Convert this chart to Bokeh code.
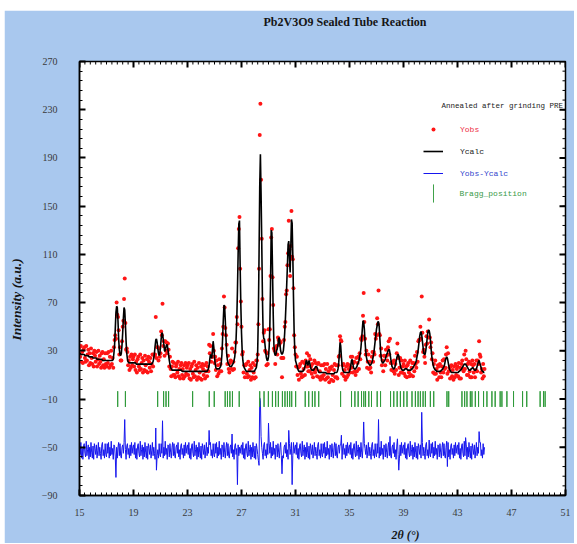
from bokeh.plotting import figure
from bokeh.layouts import column, row
from bokeh.models import (Range1d, FixedTicker, Label, Legend, LegendItem, Title, Spacer)
from bokeh.embed import file_html
from bokeh.resources import INLINE

# ---------------- data ----------------
TWO_THETA_START = 15.0
TWO_THETA_STEP = 0.05

y_calc = [
    28, 28, 27, 27, 27, 27, 27, 27, 26, 26, 26, 26, 26, 26, 25, 25, 25, 25, 25, 25,
    24, 24, 24, 24, 24, 24, 23, 23, 23, 23, 23, 23, 23, 23, 22, 22, 22, 22, 22, 22,
    22, 22, 22, 22, 22, 22, 22, 22, 22, 22, 23, 28, 35, 48, 62, 67, 66, 55, 40, 31,
    27, 26, 28, 35, 45, 57, 66, 64, 52, 38, 28, 23, 21, 20, 20, 20, 20, 20, 20, 20,
    20, 20, 20, 20, 19, 19, 19, 19, 19, 19, 19, 19, 19, 19, 19, 19, 19, 19, 19, 19,
    19, 19, 19, 19, 19, 19, 19, 19, 20, 21, 24, 28, 34, 39, 40, 37, 32, 28, 26, 28,
    33, 40, 45, 44, 40, 35, 30, 30, 33, 35, 35, 31, 27, 22, 19, 16, 15, 14, 14, 14,
    14, 14, 14, 14, 14, 14, 14, 14, 14, 14, 14, 14, 13, 13, 13, 13, 13, 13, 13, 13,
    13, 13, 13, 13, 13, 13, 13, 13, 13, 13, 13, 13, 13, 13, 13, 13, 13, 13, 13, 13,
    13, 13, 13, 13, 13, 13, 13, 13, 13, 13, 14, 15, 18, 23, 27, 25, 24, 31, 38, 33,
    25, 19, 16, 15, 15, 15, 15, 15, 16, 17, 20, 27, 40, 55, 68, 67, 55, 40, 28, 23,
    20, 19, 18, 17, 17, 17, 18, 19, 20, 22, 25, 31, 40, 56, 80, 110, 135, 138, 100, 68,
    45, 30, 22, 18, 16, 15, 14, 13, 13, 13, 13, 13, 13, 13, 13, 13, 13, 13, 13, 13,
    14, 15, 16, 20, 30, 60, 110, 165, 193, 160, 120, 75, 45, 40, 40, 34, 28, 24, 22, 22,
    25, 33, 50, 85, 130, 128, 95, 60, 35, 28, 26, 27, 30, 32, 35, 40, 41, 35, 30, 28,
    27, 28, 30, 36, 45, 56, 70, 85, 100, 118, 121, 108, 95, 115, 139, 136, 110, 75, 45, 30,
    22, 20, 18, 16, 14, 13, 13, 13, 13, 13, 13, 13, 14, 15, 17, 19, 22, 21, 18, 19,
    22, 20, 17, 15, 14, 14, 14, 14, 15, 16, 17, 17, 16, 14, 13, 12, 12, 12, 12, 12,
    12, 12, 12, 12, 12, 12, 11, 11, 11, 11, 11, 11, 11, 11, 11, 11, 11, 11, 12, 12,
    12, 12, 13, 15, 20, 28, 37, 34, 25, 18, 14, 13, 12, 12, 12, 12, 12, 12, 12, 12,
    13, 15, 18, 22, 23, 19, 16, 15, 15, 15, 16, 17, 19, 20, 22, 25, 28, 33, 40, 48,
    55, 54, 48, 38, 30, 25, 22, 21, 20, 19, 18, 18, 19, 20, 22, 25, 28, 33, 38, 43,
    48, 51, 54, 54, 50, 40, 30, 24, 21, 20, 20, 21, 22, 23, 25, 27, 28, 30, 31, 31,
    28, 24, 20, 17, 16, 15, 15, 16, 18, 21, 24, 26, 27, 26, 22, 19, 16, 15, 14, 14,
    14, 14, 15, 15, 15, 15, 14, 14, 14, 14, 14, 14, 15, 15, 16, 17, 18, 19, 20, 22,
    25, 28, 32, 37, 42, 45, 46, 43, 38, 33, 28, 27, 27, 30, 35, 40, 45, 47, 47, 44,
    38, 31, 25, 21, 18, 16, 15, 14, 14, 13, 13, 13, 13, 13, 13, 13, 14, 14, 15, 16,
    17, 19, 22, 24, 25, 24, 21, 18, 15, 14, 13, 12, 12, 12, 12, 12, 12, 12, 12, 12,
    12, 12, 13, 13, 14, 14, 15, 16, 17, 18, 19, 19, 19, 18, 17, 16, 15, 14, 14, 14,
    15, 15, 16, 16, 15, 14, 14, 14, 15, 17, 19, 21, 22, 20, 18, 16, 14, 13, 13, 12,
    12,
]

y_obs = [
    33, 25, 34, 21, 29, 20, 31, 33, 24, 21, 34, 22, 27, 31, 18, 28, 20, 32, 24, 19,
    28, 17, 30, 26, 21, 29, 17, 23, 30, 19, 26, 21, 16, 28, 29, 18, 23, 16, 28, 19,
    17, 28, 20, 29, 16, 25, 18, 30, 19, 24, 16, 33, 39, 43, 40, 70, 60, 58, 47, 27,
    33, 22, 22, 38, 50, 55, 73, 90, 53, 31, 32, 29, 18, 22, 14, 25, 16, 27, 18, 23,
    25, 17, 27, 14, 21, 12, 23, 25, 17, 14, 27, 15, 20, 24, 12, 22, 14, 26, 18, 13,
    23, 12, 25, 21, 16, 24, 13, 19, 27, 17, 27, 26, 27, 58, 24, 33, 33, 22, 32, 25,
    28, 46, 43, 69, 34, 38, 26, 38, 30, 37, 28, 36, 31, 17, 25, 15, 9, 17, 21, 10,
    20, 10, 8, 17, 19, 12, 21, 9, 15, 7, 18, 20, 10, 15, 7, 18, 9, 20, 11, 16,
    18, 10, 20, 7, 15, 6, 17, 19, 11, 8, 21, 9, 14, 18, 6, 16, 8, 20, 12, 7,
    17, 6, 19, 15, 10, 18, 7, 13, 20, 9, 17, 13, 35, 28, 34, 21, 25, 25, 44, 30,
    20, 25, 14, 22, 9, 18, 11, 23, 13, 19, 13, 32, 44, 50, 75, 66, 49, 43, 35, 19,
    26, 15, 12, 20, 22, 15, 32, 14, 21, 15, 29, 37, 37, 58, 52, 115, 131, 141, 98, 71,
    50, 27, 29, 12, 18, 8, 18, 19, 11, 8, 21, 9, 14, 18, 6, 16, 8, 20, 12, 7,
    18, 8, 22, 22, 27, 52, 98, 209, 235, 172, 123, 73, 38, 45, 47, 30, 29, 18, 28, 19,
    48, 39, 48, 92, 124, 131, 91, 68, 32, 30, 19, 32, 34, 27, 41, 39, 35, 38, 37, 24,
    8, 24, 24, 39, 50, 54, 77, 80, 101, 111, 138, 114, 92, 117, 146, 108, 106, 82, 43, 33,
    27, 17, 25, 10, 16, 6, 17, 19, 11, 8, 21, 9, 15, 20, 10, 22, 17, 28, 17, 13,
    26, 13, 23, 17, 11, 19, 8, 14, 22, 12, 20, 15, 9, 19, 20, 8, 13, 6, 18, 9,
    7, 18, 10, 19, 6, 15, 7, 19, 8, 13, 4, 16, 15, 6, 17, 10, 5, 14, 19, 8,
    18, 8, 7, 18, 25, 26, 42, 39, 38, 11, 18, 19, 9, 14, 6, 17, 8, 19, 10, 15,
    18, 12, 25, 16, 25, 12, 20, 21, 13, 10, 24, 13, 20, 25, 15, 28, 23, 40, 39, 42,
    59, 78, 54, 40, 27, 30, 16, 21, 27, 15, 21, 16, 12, 25, 29, 21, 29, 27, 44, 40,
    43, 57, 52, 80, 44, 43, 26, 32, 18, 22, 13, 26, 26, 18, 31, 26, 22, 33, 38, 27,
    40, 20, 14, 20, 21, 13, 22, 11, 19, 14, 28, 36, 24, 10, 16, 24, 12, 22, 12, 17,
    19, 11, 22, 9, 17, 8, 18, 20, 12, 9, 22, 10, 16, 20, 9, 20, 13, 26, 19, 16,
    29, 21, 38, 39, 39, 50, 40, 75, 45, 29, 31, 25, 20, 35, 42, 36, 46, 41, 56, 41,
    33, 37, 23, 28, 12, 19, 11, 22, 11, 15, 6, 18, 17, 8, 19, 12, 8, 17, 22, 12,
    23, 15, 16, 27, 33, 11, 28, 13, 16, 7, 17, 18, 9, 14, 6, 17, 8, 19, 10, 15,
    17, 9, 20, 7, 16, 7, 19, 22, 15, 13, 27, 15, 30, 23, 10, 19, 10, 21, 13, 8,
    19, 8, 22, 18, 12, 19, 8, 14, 22, 13, 22, 19, 38, 27, 25, 12, 15, 7, 19, 9,
    15,
]

bragg_positions = [
    17.83, 18.40, 20.79, 21.23, 21.41, 21.60, 23.38, 24.61, 24.98, 25.79,
    25.96, 26.14, 26.33, 26.83, 28.35, 28.67, 28.99, 29.29, 29.53, 29.73,
    30.03, 30.22, 30.40, 30.57, 30.72, 31.01, 31.72, 31.98, 32.25, 32.44,
    32.72, 34.34, 35.15, 35.40, 35.64, 35.89, 36.06, 36.19, 36.43, 36.63,
    37.05, 37.30, 38.04, 38.28, 38.53, 38.77, 39.02, 39.26, 39.63, 39.88,
    40.08, 40.25, 40.45, 40.62, 40.99, 41.24, 42.22, 42.35, 43.33, 43.53,
    43.70, 43.95, 44.07, 44.32, 44.56, 44.93, 45.18, 45.55, 45.79, 46.16,
    46.29, 46.66, 47.15, 47.82, 48.13, 49.12, 49.37, 49.49,
]
bragg_level = -10
diff_offset = -53

x_ticks = [15, 19, 23, 27, 31, 35, 39, 43, 47, 51]
y_ticks = [-90, -50, -10, 30, 70, 110, 150, 190, 230, 270]

title_text = "Pb2V3O9 Sealed Tube Reaction"
x_label = "2\u03b8 (\u00b0)"
y_label = "Intensity (a.u.)"
legend_title = "Annealed after grinding PRE"
series_labels = ["Yobs", "Ycalc", "Yobs-Ycalc", "Bragg_position"]

# ---------------- derived ----------------
two_theta = [round(TWO_THETA_START + TWO_THETA_STEP * i, 3) for i in range(len(y_calc))]
y_diff = [o - c + diff_offset for o, c in zip(y_obs, y_calc)]
X0, X1 = x_ticks[0], x_ticks[-1]
Y0, Y1 = y_ticks[0], y_ticks[-1]
x_minor = [X0 + 0.4 * i for i in range(91)]
y_minor = [Y0 + 8 * i for i in range(46)]

BG = "#A9C8EE"
SERIF = "Liberation Serif"
MONO = "Liberation Mono"

p = figure(width=570, height=533, output_backend="svg", toolbar_location=None,
           x_range=Range1d(X0, X1), y_range=Range1d(Y0, Y1),
           min_border_left=75, min_border_right=9, min_border_top=51, min_border_bottom=46,
           background_fill_color="white", border_fill_color=BG,
           outline_line_color="black", outline_line_width=1.5)
p.grid.visible = False


def style_axis(ax):
    ax.axis_line_color = "black"
    ax.axis_line_width = 1.5
    ax.major_tick_in = 6
    ax.major_tick_out = 0
    ax.major_tick_line_width = 2
    ax.major_tick_line_color = "black"
    ax.minor_tick_in = 3
    ax.minor_tick_out = 0
    ax.minor_tick_line_color = "black"
    ax.minor_tick_line_width = 1
    ax.major_label_text_font = SERIF
    ax.major_label_text_font_size = "10px"
    ax.major_label_text_color = "#3a3a3a"


xb = p.xaxis[0]
xb.ticker = FixedTicker(ticks=x_ticks, minor_ticks=x_minor)
style_axis(xb)
xb.major_label_standoff = 13

yl = p.yaxis[0]
yl.ticker = FixedTicker(ticks=y_ticks, minor_ticks=y_minor)
style_axis(yl)
yl.major_label_standoff = 22

# inward ticks on the top and right edges (clipped to the frame)
p.scatter(x_ticks, [Y1] * len(x_ticks), marker="dash", angle=1.5707963, size=12,
          line_color="black", line_width=2)
p.scatter(x_minor, [Y1] * len(x_minor), marker="dash", angle=1.5707963, size=6,
          line_color="black", line_width=1)
p.scatter([X1] * len(y_ticks), y_ticks, marker="dash", size=12,
          line_color="black", line_width=2)
p.scatter([X1] * len(y_minor), y_minor, marker="dash", size=6,
          line_color="black", line_width=1)

# ---------------- glyphs ----------------
r_obs = p.scatter(two_theta, y_obs, marker="circle", size=4,
                  fill_color="#ff1515", line_color=None)
r_calc = p.line(two_theta, y_calc, line_color="black", line_width=1.6)
r_diff = p.line(two_theta, y_diff, line_color="#1616ee", line_width=1)
r_bragg = p.rect(x=bragg_positions, y=[bragg_level] * len(bragg_positions),
                 width=0.001, height=13, fill_alpha=0,
                 line_color="#2f9a3a", line_width=1)


# ---------------- legend ----------------
def add_legend(renderer, label, color, loc, gw, gh, standoff):
    leg = Legend(items=[LegendItem(label=label, renderers=[renderer])],
                 location=loc, glyph_width=gw, glyph_height=gh, label_height=gh,
                 label_standoff=standoff, label_text_font=MONO,
                 label_text_font_size="8px", label_text_color=color,
                 padding=0, margin=0, spacing=0,
                 border_line_color=None, background_fill_alpha=0)
    p.add_layout(leg, "center")


add_legend(r_obs, series_labels[0], "#ee2f45", (344, 361), 20, 10, 17)
add_legend(r_calc, series_labels[1], "#222222", (344, 339), 20, 10, 17)
add_legend(r_diff, series_labels[2], "#3344cc", (344, 317), 20, 10, 17)
add_legend(r_bragg, series_labels[3], "#3a9a4a", (353.5, 291), 1, 22, 26)

p.add_layout(Label(x=362, y=390, x_units="screen", y_units="screen",
                   text=legend_title, text_font=MONO, text_font_size="7.5px",
                   text_color="#222222", text_baseline="middle"))

# ---------------- titles ----------------
p.title = Title(text=title_text, align="left", offset=184, standoff=0,
                vertical_align="bottom",
                padding={"left": 0, "right": 0, "top": 0, "bottom": 33},
                text_font=SERIF, text_font_size="12px", text_font_style="bold",
                text_color="#151515")
p.add_layout(Title(text=x_label, align="left", offset=312, standoff=0,
                   vertical_align="top",
                   padding={"left": 0, "right": 0, "top": 9, "bottom": 0},
                   text_font=SERIF, text_font_size="12px",
                   text_font_style="bold italic", text_color="#151515"), "below")
p.add_layout(Title(text=y_label, align="left", offset=155, standoff=0,
                   vertical_align="bottom",
                   padding={"left": 0, "right": 0, "top": 0, "bottom": 15},
                   text_font=SERIF, text_font_size="13.5px",
                   text_font_style="bold italic", text_color="#151515"), "left")

layout = column(Spacer(height=10, width=577), row(Spacer(width=4, height=533), p))

open("out.html", "w").write(file_html(layout, INLINE))
